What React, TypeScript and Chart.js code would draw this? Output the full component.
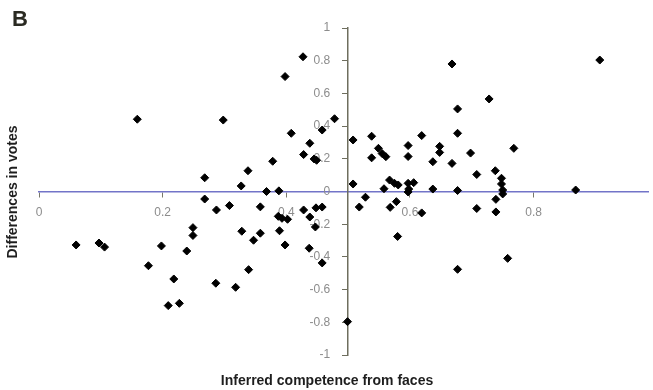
import React, { useEffect, useRef } from 'react';
import { Chart, registerables } from 'chart.js';

Chart.register(...registerables);

// Inferred competence from faces (x) and differences in votes (y)
const xValues = [
  0.06, 0.097, 0.106, 0.159, 0.177, 0.198, 0.218, 0.209, 0.227, 0.239,
  0.249, 0.249, 0.268, 0.268, 0.287, 0.286, 0.298, 0.308, 0.318, 0.327,
  0.338, 0.328, 0.347, 0.358, 0.339, 0.358, 0.368, 0.378, 0.388, 0.398,
  0.408, 0.387, 0.393, 0.402, 0.389, 0.398, 0.427, 0.428, 0.438, 0.445,
  0.449, 0.458, 0.478, 0.428, 0.438, 0.447, 0.448, 0.458, 0.437, 0.458,
  0.499, 0.508, 0.508, 0.518, 0.528, 0.538, 0.538, 0.549, 0.555, 0.561,
  0.558, 0.567, 0.575, 0.581, 0.568, 0.578, 0.58, 0.597, 0.597, 0.597,
  0.606, 0.598, 0.597, 0.619, 0.619, 0.637, 0.637, 0.648, 0.648, 0.668,
  0.677, 0.677, 0.668, 0.677, 0.698, 0.708, 0.708, 0.728, 0.738, 0.748,
  0.748, 0.75, 0.75, 0.739, 0.739, 0.768, 0.758, 0.677, 0.868, 0.907,
];
const yValues = [
  -0.327, -0.315, -0.34, 0.442, -0.454, -0.333, -0.535, -0.698, -0.684, -0.364,
  -0.221, -0.269, 0.084, -0.046, -0.113, -0.561, 0.437, -0.086, -0.586, 0.034,
  0.127, -0.243, -0.298, -0.255, -0.478, -0.094, 0.0, 0.185, 0.004, 0.703,
  0.356, -0.152, -0.164, -0.17, -0.24, -0.327, 0.824, 0.226, 0.295, 0.199,
  0.191, 0.376, 0.445, -0.113, -0.156, -0.217, -0.1, -0.095, -0.347, -0.437,
  -0.796, 0.315, 0.046, -0.095, -0.035, 0.338, 0.206, 0.264, 0.232, 0.213,
  0.017, 0.07, 0.05, 0.04, -0.097, -0.062, -0.275, 0.281, 0.214, 0.05,
  0.054, 0.015, -0.003, 0.342, -0.131, 0.182, 0.015, 0.276, 0.239, 0.78,
  0.505, 0.356, 0.172, 0.006, 0.235, 0.104, -0.104, 0.566, 0.127, 0.081,
  0.046, 0.009, -0.015, -0.048, -0.125, 0.264, -0.409, -0.476, 0.009, 0.804,
];

const xTickValues = [0, 0.2, 0.4, 0.6, 0.8];
const yTickValues = [-1, -0.8, -0.6, -0.4, -0.2, 0, 0.2, 0.4, 0.6, 0.8, 1];

const panelLabel = 'B';
const xTitle = 'Inferred competence from faces';
const yTitle = 'Differences in votes';

const FONT = '"Liberation Sans", Arial, Helvetica, sans-serif';

export default function App() {
  const ref = useRef<HTMLCanvasElement>(null);

  useEffect(() => {
    if (!ref.current) return;
    const points = xValues.map((x, i) => ({ x, y: yValues[i] }));

    const titlePlugin = {
      id: 'panelTitles',
      afterDraw(chart: any) {
        const ctx = chart.ctx as CanvasRenderingContext2D;
        ctx.save();
        ctx.fillStyle = '#2a2a22';
        ctx.font = `bold 22px ${FONT}`;
        ctx.textAlign = 'left';
        ctx.textBaseline = 'alphabetic';
        ctx.fillText(panelLabel, 12, 26);

        ctx.fillStyle = '#1e1e1e';
        ctx.font = `bold 14px ${FONT}`;
        ctx.textAlign = 'center';
        ctx.textBaseline = 'middle';
        ctx.fillText(xTitle, 327, 381);

        ctx.translate(13, 192);
        ctx.rotate(-Math.PI / 2);
        ctx.fillText(yTitle, 0, 0);
        ctx.restore();
      },
    };

    const tickFont = { family: FONT, size: 12 };
    const fmt = (v: any) => String(Number(Number(v).toFixed(1)));

    const chart = new Chart(ref.current, {
      type: 'scatter',
      data: {
        datasets: [
          {
            data: points,
            pointStyle: 'rectRot',
            pointRadius: 4,
            pointHoverRadius: 4,
            backgroundColor: '#000000',
            borderColor: '#000000',
            borderWidth: 1,
          },
        ],
      },
      options: {
        responsive: false,
        animation: false,
        layout: { padding: { left: 39, right: 2, top: 28, bottom: 35 } },
        plugins: {
          legend: { display: false },
          tooltip: { enabled: false },
        },
        scales: {
          x: {
            type: 'linear',
            min: 0,
            max: 0.985,
            position: { y: 0 } as any,
            afterBuildTicks: (s: any) => {
              s.ticks = xTickValues.map((v) => ({ value: v }));
            },
            grid: {
              drawOnChartArea: false,
              drawTicks: true,
              tickLength: 5,
              tickColor: '#77776a',
              lineWidth: 1,
            },
            border: { display: true, color: '#7274c8', width: 1.5 },
            ticks: {
              color: '#8c8c8c',
              font: tickFont,
              padding: 9,
              maxRotation: 0,
              autoSkip: false,
              callback: fmt,
            },
          },
          y: {
            type: 'linear',
            min: -1,
            max: 1,
            position: { x: 0.5 } as any,
            afterBuildTicks: (s: any) => {
              s.ticks = yTickValues.map((v) => ({ value: v }));
              if (!s.__shiftPatched) {
                const orig = s._computeLabelItems.bind(s);
                s._computeLabelItems = (area: any) => {
                  const items = orig(area);
                  items.forEach((it: any) => {
                    const t = it.options.translation;
                    it.options.translation = [t[0] - 18, t[1]];
                  });
                  return items;
                };
                s.__shiftPatched = true;
              }
            },
            grid: {
              drawOnChartArea: false,
              drawTicks: true,
              tickLength: 5,
              tickColor: '#6e6e5e',
              lineWidth: 1,
            },
            border: { display: true, color: '#6e6e5e', width: 1.5 },
            ticks: {
              color: '#8c8c8c',
              font: tickFont,
              padding: 12,
              autoSkip: false,
              callback: fmt,
            },
          },
        },
      },
      plugins: [titlePlugin],
    } as any);

    return () => chart.destroy();
  }, []);

  return (
    <div
      style={{
        position: 'fixed',
        left: 0,
        top: 0,
        width: 653,
        height: 390,
        background: '#ffffff',
      }}
    >
      <canvas ref={ref} width={653} height={390} style={{ display: 'block' }} />
    </div>
  );
}
